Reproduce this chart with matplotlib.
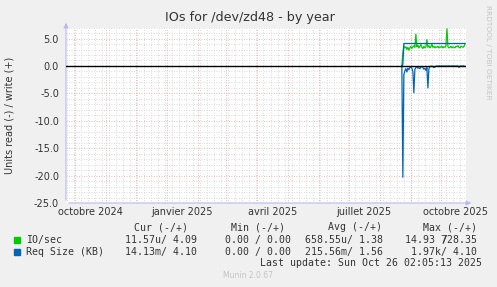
import matplotlib
matplotlib.use('Agg')
import matplotlib.pyplot as plt
import matplotlib.dates as mdates
from datetime import date, timedelta

# daily values from 2025-08-23 to 2025-10-25
data_start = date(2025, 8, 23)
io_write = [0.0, 2.4, 3.6, 3.3, 3.5, 3.0, 3.4, 2.9, 3.3, 3.6,
            3.2, 3.5, 3.7, 3.4, 5.8, 3.5, 3.8, 3.3, 3.6, 3.9,
            3.4, 3.2, 3.6, 3.3, 3.5, 4.8, 3.4, 3.7, 3.3, 3.5,
            4.0, 3.4, 3.6, 3.3, 3.5, 3.4, 3.6, 3.3, 3.5, 3.4,
            3.6, 3.3, 3.5, 3.4, 3.7, 6.8, 3.5, 3.3, 3.4, 3.6,
            3.3, 3.5, 3.4, 3.3, 3.6, 3.5, 3.7, 3.4, 3.3, 3.6,
            3.5, 3.4, 3.6, 4.09]
req_write = [0.0, 0.3, 4.1, 4.1, 4.1, 4.1, 4.1, 4.1, 4.1, 4.1,
             4.1, 4.1, 4.1, 4.1, 4.1, 4.1, 4.1, 4.1, 4.1, 4.1,
             4.1, 4.1, 4.1, 4.1, 4.1, 4.1, 4.1, 4.1, 4.1, 4.1,
             4.1, 4.1, 4.1, 4.1, 4.1, 4.1, 4.1, 4.1, 4.1, 4.1,
             4.1, 4.1, 4.1, 4.1, 4.1, 4.1, 4.1, 4.1, 4.1, 4.1,
             4.1, 4.1, 4.1, 4.1, 4.1, 4.1, 4.1, 4.1, 4.1, 4.1,
             4.1, 4.1, 4.1, 4.1]
req_read = [0.0, -20.3, -1.6, -0.9, -0.5, -1.1, -0.4, -0.7, -0.3, -0.2,
            -0.4, -1.0, -4.9, -0.6, -0.3, -0.2, -0.4, -0.3, -0.5, -0.2,
            -0.1, -0.3, -0.6, -0.4, -0.8, -0.3, -4.0, -0.5, -0.1, -0.05,
            -0.05, -0.1, -0.3, -0.2, -0.05, 0.0, -0.05, 0.0, 0.0, -0.05,
            0.0, 0.0, -0.05, 0.0, 0.0, -0.05, 0.0, 0.0, 0.0, -0.05,
            0.0, 0.0, 0.0, 0.0, -0.05, 0.0, 0.0, -0.25, 0.0, 0.0,
            -0.05, 0.0, 0.0, -0.1]

month_labels = ['octobre 2024', 'janvier 2025', 'avril 2025', 'juillet 2025', 'octobre 2025']
month_label_dates = [date(2024, 10, 16), date(2025, 1, 16), date(2025, 4, 16),
                     date(2025, 7, 16), date(2025, 10, 16)]

legend_names = ['IO/sec', 'Req Size (KB)']
legend_colors = ['#00CC00', '#0066B3']
col_headers = ['Cur (-/+)', 'Min (-/+)', 'Avg (-/+)', 'Max (-/+)']
cur_vals = ['11.57u/ 4.09', '14.13m/ 4.10']
min_vals = ['0.00 / 0.00', '0.00 / 0.00']
avg_vals = ['658.55u/ 1.38', '215.56m/ 1.56']
max_vals = ['14.93 728.35', '1.97k/ 4.10']

W, H = 497, 287
fig = plt.figure(figsize=(W / 100, H / 100), dpi=100, facecolor='#F0F0F0')

def fx(px):
    return px / W

def fy(py):
    return (H - py) / H

ax = fig.add_axes([fx(66), fy(203), fx(466) - fx(66), fy(27.6) - fy(203)])
ax.set_facecolor('white')
for s in ax.spines.values():
    s.set_visible(False)

x0 = date(2024, 9, 22)
x1 = date(2025, 10, 26)
ax.set_xlim(x0, x1)
ax.set_ylim(-25, 7)

# grid
d = x0
while d <= x1:
    if d.weekday() == 0:
        ax.axvline(d, color='#cfcfcf', lw=0.6, ls=(0, (1, 2)), zorder=1)
    if d.day == 1:
        ax.axvline(d, color='#e8a0a0', lw=0.6, ls=(0, (1, 2)), zorder=1.1)
    d += timedelta(days=1)
for v in range(-25, 8):
    if v % 5 != 0:
        ax.axhline(v, color='#cfcfcf', lw=0.6, ls=(0, (1, 2)), zorder=1)
    elif v != 0 and v != -25:
        ax.axhline(v, color='#e8a0a0', lw=0.6, ls=(0, (1, 2)), zorder=1.1)

days = [data_start + timedelta(days=i) for i in range(len(io_write))]
ax.plot(days, io_write, color=legend_colors[0], lw=0.9, zorder=3)
ax.plot(days, req_write, color=legend_colors[1], lw=0.9, zorder=4)
ax.plot(days, req_read, color=legend_colors[1], lw=0.9, zorder=4)
ax.axhline(0, color='black', lw=1.0, zorder=5)

ax.set_yticks(range(-25, 6, 5))
ax.set_yticklabels(['%.1f' % v for v in range(-25, 6, 5)])
ax.set_xticks(month_label_dates)
ax.set_xticklabels(month_labels)
ax.tick_params(axis='both', length=0, labelsize=7, labelcolor='#333333')
ax.tick_params(axis='y', pad=5)
ax.tick_params(axis='x', pad=3)

# axis arrows
arrow_col = '#b8b8f0'
ax.annotate('', xy=(66, H - 20), xytext=(66, H - 203), xycoords='figure pixels',
            textcoords='figure pixels',
            arrowprops=dict(arrowstyle='-|>', color=arrow_col, lw=0.8, mutation_scale=7))
ax.annotate('', xy=(474, H - 203), xytext=(66, H - 203), xycoords='figure pixels',
            textcoords='figure pixels',
            arrowprops=dict(arrowstyle='-|>', color=arrow_col, lw=0.8, mutation_scale=7))

fig.text(fx(250), fy(18), 'IOs for /dev/zd48 - by year', ha='center', va='center',
         fontsize=9.2, color='#333333')
fig.text(fx(10), fy(115), 'Units read (-) / write (+)', ha='center', va='center',
         rotation=90, fontsize=7, color='#333333')
fig.text(fx(488), fy(52), 'RRDTOOL / TOBI OETIKER', ha='center', va='center',
         rotation=270, fontsize=5.3, color='#c4c4c4')

mono = dict(family='DejaVu Sans Mono', fontsize=7.1, color='#333333', va='center')
for hx, txt in zip([134, 231, 328, 423], col_headers):
    fig.text(fx(hx), fy(227), txt, ha='left', **mono)
for i, ry in enumerate([240, 252]):
    fig.patches.append(plt.Rectangle((fx(14), fy(ry + 3)), fx(6), 6 / H,
                                     transform=fig.transFigure, color=legend_colors[i]))
    fig.text(fx(26), fy(ry), legend_names[i], ha='left', **mono)
    fig.text(fx(197), fy(ry), cur_vals[i], ha='right', **mono)
    fig.text(fx(291), fy(ry), min_vals[i], ha='right', **mono)
    fig.text(fx(383), fy(ry), avg_vals[i], ha='right', **mono)
    fig.text(fx(477), fy(ry), max_vals[i], ha='right', **mono)
cw = 0.602 * 7.1 * 100 / 72
fig.text(fx(477 - 6 * cw), fy(240), '/', ha='left', **mono)
fig.text(fx(482), fy(263), 'Last update: Sun Oct 26 02:05:13 2025', ha='right', **mono)
fig.text(fx(248), fy(276), 'Munin 2.0.67', ha='center', va='center', fontsize=5.5,
         color='#c4c4c4')

fig.savefig('out.png', dpi=100, facecolor=fig.get_facecolor())
